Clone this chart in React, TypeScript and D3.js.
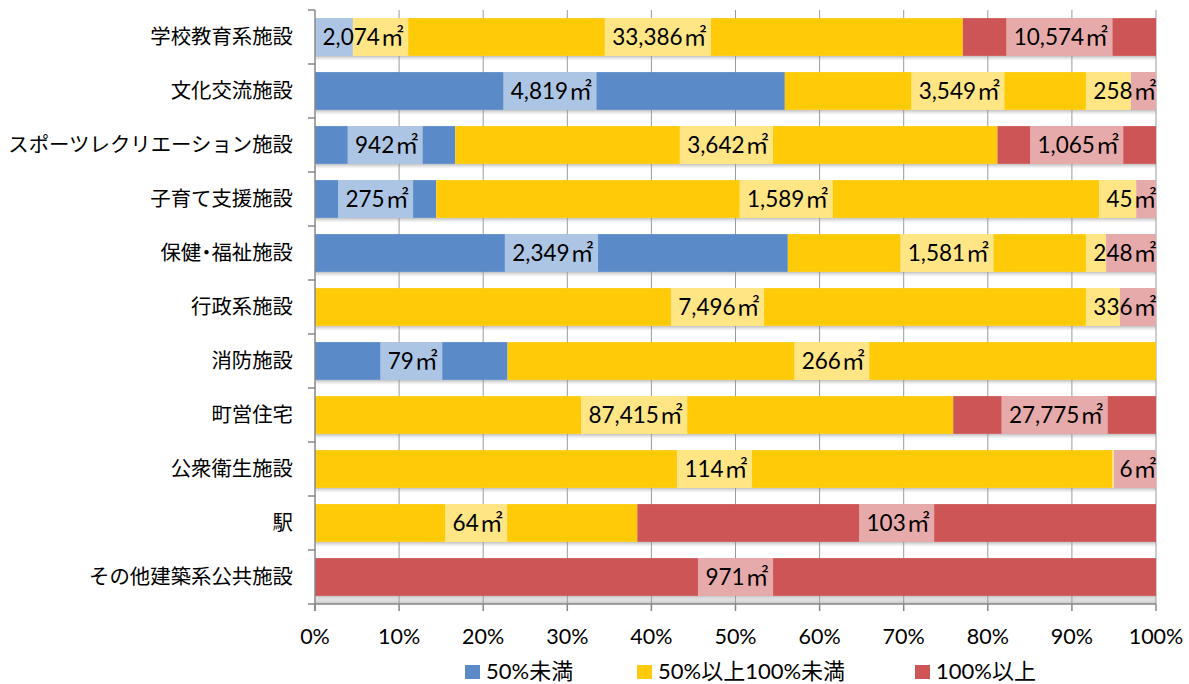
import React, { useEffect, useRef } from "react";
import * as d3 from "d3";

// Floor area by facility type, split by ratio band (㎡)
const categories = [
  "学校教育系施設",
  "文化交流施設",
  "スポーツレクリエーション施設",
  "子育て支援施設",
  "保健・福祉施設",
  "行政系施設",
  "消防施設",
  "町営住宅",
  "公衆衛生施設",
  "駅",
  "その他建築系公共施設",
];
const under50 = [2074, 4819, 942, 275, 2349, 0, 79, 0, 0, 0, 0];
const from50to100 = [33386, 3549, 3642, 1589, 1581, 7496, 266, 87415, 114, 64, 0];
const over100 = [10574, 258, 1065, 45, 248, 336, 0, 27775, 6, 103, 971];

const seriesNames = ["50%未満", "50%以上100%未満", "100%以上"];
const seriesColors = ["#5A8AC8", "#FFCA08", "#CE5555"];
const xTicks = [0, 0.1, 0.2, 0.3, 0.4, 0.5, 0.6, 0.7, 0.8, 0.9, 1];

const W = 1189;
const H = 684;
const left = 315;
const right = 1156;
const top = 10;
const bottom = 604;

export default function App() {
  const ref = useRef<SVGSVGElement>(null);

  useEffect(() => {
    const svg = d3.select(ref.current);
    svg.selectAll("*").remove();

    const x = d3.scaleLinear().domain([0, 1]).range([left, right]);
    const y = d3
      .scaleBand<string>()
      .domain(categories)
      .range([top, bottom])
      .paddingInner(0.3)
      .paddingOuter(0.15);

    const defs = svg.append("defs");
    const sh = defs
      .append("linearGradient")
      .attr("id", "shadow")
      .attr("x1", 0)
      .attr("y1", 0)
      .attr("x2", 0)
      .attr("y2", 1);
    sh.append("stop").attr("offset", 0).attr("stop-color", "#8a8a8a").attr("stop-opacity", 0.55);
    sh.append("stop").attr("offset", 1).attr("stop-color", "#bbbbbb").attr("stop-opacity", 0);
    const fl = defs
      .append("linearGradient")
      .attr("id", "floor")
      .attr("x1", 0)
      .attr("y1", 0)
      .attr("x2", 0)
      .attr("y2", 1);
    fl.append("stop").attr("offset", 0).attr("stop-color", "#f4f4f4");
    fl.append("stop").attr("offset", 1).attr("stop-color", "#c4c4c4");

    // floor band
    svg
      .append("rect")
      .attr("x", left)
      .attr("y", bottom - 6)
      .attr("width", right - left)
      .attr("height", 6)
      .attr("fill", "url(#floor)");

    // vertical gridlines
    svg
      .append("g")
      .selectAll("line")
      .data(xTicks.slice(1))
      .join("line")
      .attr("x1", (d) => x(d))
      .attr("x2", (d) => x(d))
      .attr("y1", top)
      .attr("y2", bottom)
      .attr("stroke", "#9a9a9a")
      .attr("stroke-width", 1);

    const rows = categories.map((c, i) => {
      const vals = [under50[i], from50to100[i], over100[i]];
      const total = d3.sum(vals);
      let acc = 0;
      const segs = vals.map((v, k) => {
        const s = { k, v, x0: acc / total, x1: (acc + v) / total };
        acc += v;
        return s;
      });
      return { c, segs };
    });

    const bars = svg.append("g");
    rows.forEach((r) => {
      const by = y(r.c)!;
      const bh = y.bandwidth();
      bars
        .append("rect")
        .attr("x", left + 1)
        .attr("y", by + bh)
        .attr("width", right - left - 1)
        .attr("height", 5)
        .attr("fill", "url(#shadow)");
      r.segs
        .filter((s) => s.v > 0)
        .forEach((s) => {
          bars
            .append("rect")
            .attr("x", x(s.x0))
            .attr("y", by)
            .attr("width", x(s.x1) - x(s.x0))
            .attr("height", bh)
            .attr("fill", seriesColors[s.k]);
        });
    });

    // value labels
    const labels = svg.append("g");
    rows.forEach((r) => {
      const by = y(r.c)!;
      const bh = y.bandwidth();
      r.segs
        .filter((s) => s.v > 0)
        .forEach((s) => {
          const g = labels.append("g");
          const box = g.append("rect");
          const t = g
            .append("text")
            .attr("y", by + bh / 2)
            .attr("dy", "0.36em")
            .attr("text-anchor", "middle")
            .attr("font-family", "Lato, 'Noto Sans CJK JP', sans-serif")
            .attr("font-size", 22.5)
            .attr("fill", "#000");
          t.append("tspan").text(d3.format(",")(s.v));
          t.append("tspan")
            .attr("dx", 1)
            .attr("font-family", "'Noto Sans CJK JP', sans-serif")
            .attr("font-size", 23)
            .text("㎡");
          const tw = (t.node() as SVGTextElement).getComputedTextLength() + 1;
          const bw = tw + 12;
          let cx = (x(s.x0) + x(s.x1)) / 2;
          if (cx - bw / 2 < left) cx = left + bw / 2;
          if (cx + bw / 2 > right) cx = right - bw / 2 + 5;
          const bx = cx - bw / 2;
          const boxW = Math.min(bw, right - bx);
          t.attr("x", cx + 1.5);
          box
            .attr("x", bx)
            .attr("y", by)
            .attr("width", boxW)
            .attr("height", bh)
            .attr("fill", "#ffffff")
            .attr("fill-opacity", 0.5);
        });
    });

    // axes
    const axisColor = "#878787";
    svg
      .append("line")
      .attr("x1", left)
      .attr("x2", left)
      .attr("y1", top)
      .attr("y2", bottom + 7)
      .attr("stroke", axisColor)
      .attr("stroke-width", 1.5);
    svg
      .append("line")
      .attr("x1", left - 7)
      .attr("x2", right)
      .attr("y1", bottom)
      .attr("y2", bottom)
      .attr("stroke", axisColor)
      .attr("stroke-width", 1.5);
    const step = y.step();
    svg
      .append("g")
      .selectAll("line")
      .data(d3.range(categories.length))
      .join("line")
      .attr("x1", left - 7)
      .attr("x2", left)
      .attr("y1", (i) => top + i * step)
      .attr("y2", (i) => top + i * step)
      .attr("stroke", axisColor)
      .attr("stroke-width", 1.5);
    svg
      .append("g")
      .selectAll("line")
      .data(xTicks)
      .join("line")
      .attr("x1", (d) => x(d))
      .attr("x2", (d) => x(d))
      .attr("y1", bottom)
      .attr("y2", bottom + 7)
      .attr("stroke", axisColor)
      .attr("stroke-width", 1.5);

    // x tick labels
    svg
      .append("g")
      .selectAll("text")
      .data(xTicks)
      .join("text")
      .attr("x", (d) => x(d))
      .attr("y", 636)
      .attr("dy", "0.36em")
      .attr("text-anchor", "middle")
      .attr("font-family", "Lato, sans-serif")
      .attr("font-size", 21.5)
      .attr("fill", "#000")
      .text((d) => d3.format(".0%")(d));

    // category labels
    svg
      .append("g")
      .selectAll("text")
      .data(categories)
      .join("text")
      .attr("x", 293)
      .attr("y", (d) => y(d)! + y.bandwidth() / 2)
      .attr("dy", "0.36em")
      .attr("text-anchor", "end")
      .attr("font-family", "'Noto Sans CJK JP', sans-serif")
      .attr("font-size", 20.4)
      .style("font-feature-settings", "'halt'")
      .attr("fill", "#000")
      .text((d) => d);

    // legend
    const legendX = [465, 637, 915];
    const lg = svg.append("g");
    seriesNames.forEach((n, i) => {
      lg.append("rect")
        .attr("x", legendX[i])
        .attr("y", 665)
        .attr("width", 15)
        .attr("height", 14)
        .attr("fill", seriesColors[i]);
      lg.append("text")
        .attr("x", legendX[i] + 21)
        .attr("y", 671)
        .attr("dy", "0.36em")
        .attr("font-family", "Lato, 'Noto Sans CJK JP', sans-serif")
        .attr("font-size", 22)
        .attr("fill", "#000")
        .text(n);
    });
  }, []);

  return (
    <svg
      ref={ref}
      width={W}
      height={H}
      style={{ position: "absolute", left: 0, top: 0, background: "#fff" }}
    />
  );
}
